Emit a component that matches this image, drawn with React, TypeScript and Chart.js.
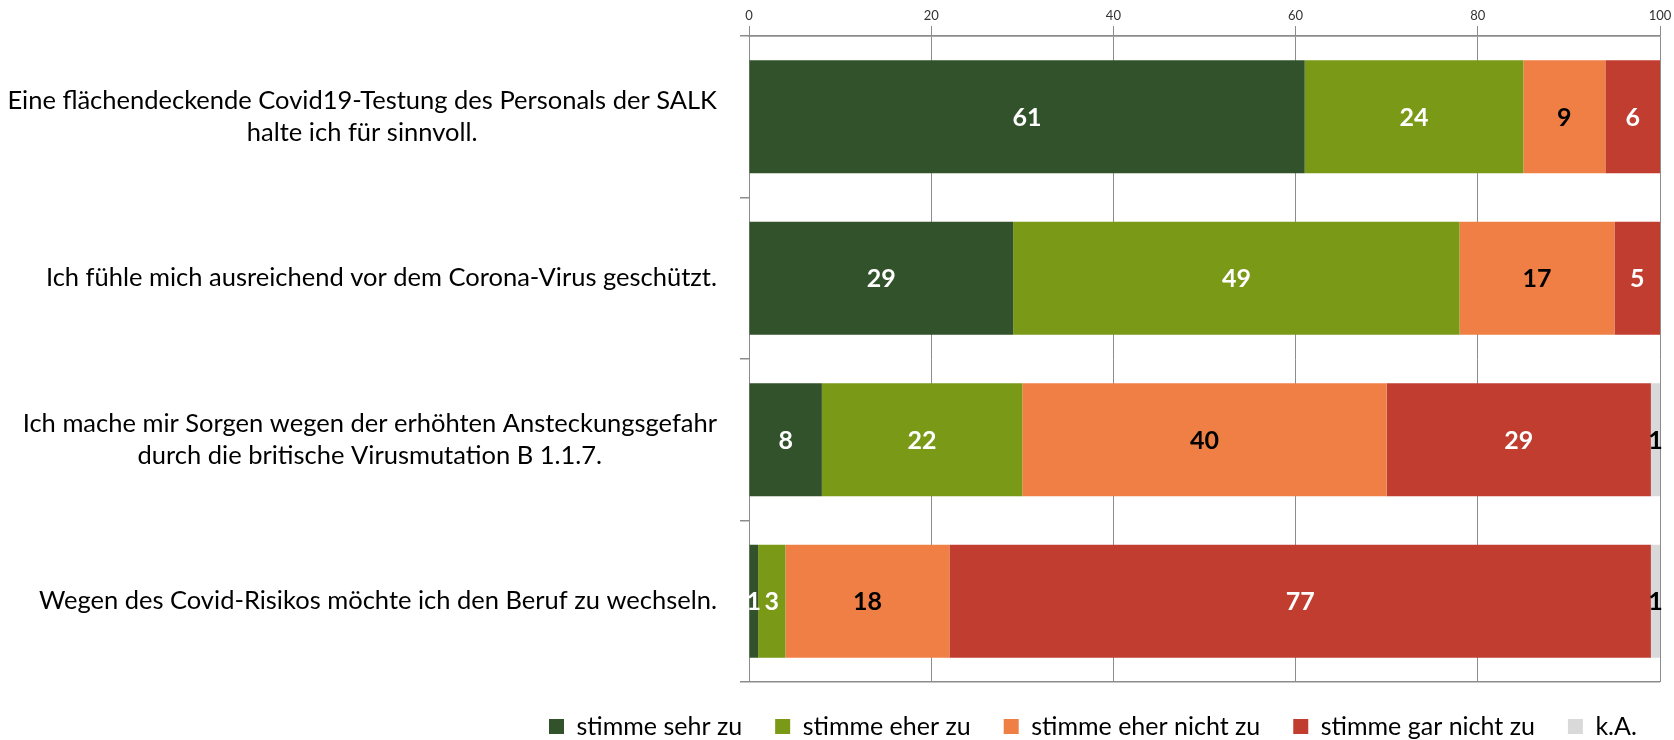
import React, { useEffect, useRef } from 'react';
import { Chart, registerables } from 'chart.js';

Chart.register(...registerables);

// ---------- data ----------
const categoryLines: string[][] = [
  ['Eine flächendeckende Covid19-Testung des Personals der SALK', 'halte ich für sinnvoll.'],
  ['Ich fühle mich ausreichend vor dem Corona-Virus geschützt.'],
  ['Ich mache mir Sorgen wegen der erhöhten Ansteckungsgefahr', 'durch die britische Virusmutation B 1.1.7.'],
  ['Wegen des Covid-Risikos möchte ich den Beruf zu wechseln.'],
];
const categories = categoryLines.map((l) => l.join(' '));
const seriesNames = ['stimme sehr zu', 'stimme eher zu', 'stimme eher nicht zu', 'stimme gar nicht zu', 'k.A.'];
const sehrZu = [61, 29, 8, 1];
const eherZu = [24, 49, 22, 3];
const eherNichtZu = [9, 17, 40, 18];
const garNichtZu = [6, 5, 29, 77];
const keineAngabe = [0, 0, 1, 1];
const axisMin = 0;
const axisMax = 100;
const axisStep = 20;

// ---------- styles ----------
const FONT = 'Lato, "Open Sans", sans-serif';
const seriesColors = ['#31522A', '#7A9916', '#EF7F44', '#C13D30', '#D9D9D9'];
const labelColors = ['#FFFFFF', '#FFFFFF', '#000000', '#FFFFFF', '#000000'];
const GRID = '#8C8C8C';
const CAT_FONT_SIZE = 25.5;
const CAT_LINE_H = 32;
const CAT_RIGHT = 717;
const LEGEND_LEFT = 516;
const LEGEND_TOP = 681;

const layoutFix = {
  id: 'layoutFix',
  afterLayout(chart: any) {
    const lg = chart.legend;
    if (lg) {
      const dx = LEGEND_LEFT - lg.left;
      lg.left += dx;
      lg.right += dx;
      const dy = LEGEND_TOP - lg.top;
      lg.top += dy;
      lg.bottom += dy;
    }
  },
};

const dataLabels = {
  id: 'dataLabels',
  afterDatasetsDraw(chart: any) {
    const ctx = chart.ctx;
    ctx.save();
    ctx.font = `bold 25px ${FONT}`;
    ctx.textAlign = 'center';
    ctx.textBaseline = 'middle';
    chart.data.datasets.forEach((ds: any, d: number) => {
      const meta = chart.getDatasetMeta(d);
      meta.data.forEach((el: any, i: number) => {
        const v = ds.data[i];
        if (!v) return;
        const p = el.getProps(['x', 'y', 'base'], true);
        ctx.fillStyle = labelColors[d];
        ctx.fillText(String(v), (p.x + p.base) / 2, p.y + 1);
      });
    });
    ctx.restore();
  },
};

const categoryLabels = {
  id: 'categoryLabels',
  afterDraw(chart: any) {
    const ctx = chart.ctx;
    const yScale = chart.scales.y;
    ctx.save();
    ctx.font = `${CAT_FONT_SIZE}px ${FONT}`;
    ctx.fillStyle = '#000000';
    ctx.textAlign = 'center';
    ctx.textBaseline = 'middle';
    categoryLines.forEach((lines, i) => {
      const cy = yScale.getPixelForValue(i);
      const w = Math.max(...lines.map((l) => ctx.measureText(l).width));
      const cx = CAT_RIGHT - w / 2;
      const y0 = cy - ((lines.length - 1) * CAT_LINE_H) / 2;
      lines.forEach((l, j) => ctx.fillText(l, cx, y0 + j * CAT_LINE_H));
    });
    ctx.restore();
  },
};

export default function App() {
  const ref = useRef<HTMLCanvasElement>(null);
  useEffect(() => {
    if (!ref.current) return;
    const series = [sehrZu, eherZu, eherNichtZu, garNichtZu, keineAngabe];
    const chart = new Chart(ref.current, {
      type: 'bar',
      data: {
        labels: categories,
        datasets: series.map((data, k) => ({
          label: seriesNames[k],
          data,
          backgroundColor: seriesColors[k],
          borderWidth: 0,
          barPercentage: 0.7,
          categoryPercentage: 1,
        })),
      },
      options: {
        indexAxis: 'y',
        animation: false,
        responsive: true,
        maintainAspectRatio: false,
        layout: { padding: { left: 0, right: 14, top: 0, bottom: -10 } },
        scales: {
          x: {
            position: 'top',
            stacked: true,
            min: axisMin,
            max: axisMax,
            ticks: { stepSize: axisStep, color: '#333333', font: { family: FONT, size: 13 }, padding: 2 },
            grid: { color: GRID, lineWidth: 1, tickLength: 10, tickColor: GRID },
            border: { color: GRID, width: 1.5 },
            afterFit: (s: any) => { s.height = 36; },
          },
          y: {
            stacked: true,
            ticks: { display: false },
            grid: {
              offset: true,
              color: (c: any) => (c.type !== 'tick' || c.index === 0 ? GRID : 'rgba(0,0,0,0)'),
              tickColor: GRID,
              tickLength: 9,
              lineWidth: 1.5,
            },
            border: { color: GRID, width: 1 },
            afterFit: (s: any) => { s.width = 749; },
          },
        },
        plugins: {
          tooltip: { enabled: false },
          legend: {
            position: 'bottom',
            align: 'start',
            labels: {
              boxWidth: 15,
              boxHeight: 15,
              padding: 33,
              color: '#000000',
              font: { family: FONT, size: 25 },
            },
          },
        },
      },
      plugins: [layoutFix, dataLabels, categoryLabels],
    } as any);
    return () => chart.destroy();
  }, []);
  return (
    <div style={{ position: 'fixed', left: 0, top: 0, width: 1674, height: 740, background: '#fff' }}>
      <canvas ref={ref} />
    </div>
  );
}
